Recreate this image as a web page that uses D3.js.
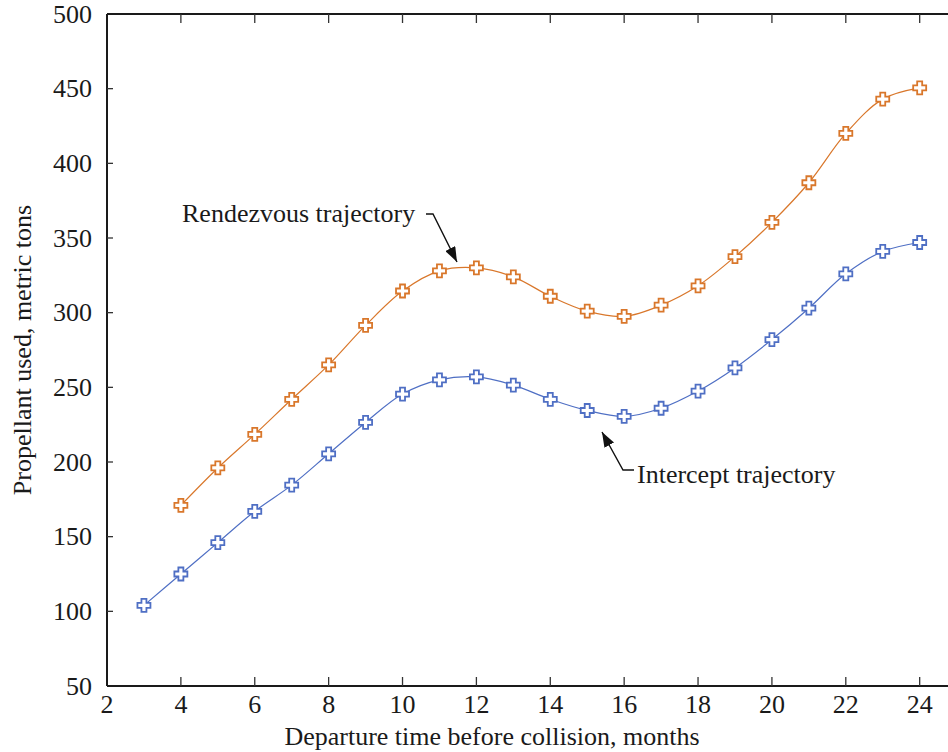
<!doctype html>
<html>
<head>
<meta charset="utf-8">
<script src="https://cdn.jsdelivr.net/npm/d3@7"></script>
<style>
  body { margin: 0; background: #fff; }
  text { font-family: "Liberation Serif", "Times New Roman", serif; fill: #1a1a1a; }
</style>
</head>
<body>
<div id="chart"></div>
<script>
// months before collision
var interceptMonths = [3,4,5,6,7,8,9,10,11,12,13,14,15,16,17,18,19,20,21,22,23,24];
var interceptTons = [104,125,146,167,184.5,205.5,226.5,245.5,255,257,251.5,242,234.5,230.5,236,247.5,263,282,303,326,341,347];

var rendezvousMonths = [4,5,6,7,8,9,10,11,12,13,14,15,16,17,18,19,20,21,22,23,24];
var rendezvousTons = [171,196,218.5,242,265,291.5,314.5,328,330,324,311,301,297.5,305,318,337.5,360.5,387,420,443,450.5];

var xTicks = [2,4,6,8,10,12,14,16,18,20,22,24];
var yTicks = [50,100,150,200,250,300,350,400,450,500];

var width = 948, height = 752;
var margin = {left: 107, top: 14, right: 0, bottom: 66};
var fs = 26;

var svg = d3.select("#chart").append("svg")
  .attr("width", width).attr("height", height);

var x = d3.scaleLinear().domain([2, 2 + (width - margin.left) / 36.94])
  .range([margin.left, width]);
var y = d3.scaleLinear().domain([50, 500])
  .range([height - margin.bottom, margin.top]);

// frame lines
var frame = svg.append("g").attr("stroke", "#1a1a1a").attr("stroke-width", 2);
frame.append("line").attr("x1", margin.left).attr("x2", width)
  .attr("y1", y(500)).attr("y2", y(500));
frame.append("line").attr("x1", margin.left).attr("x2", width)
  .attr("y1", y(50)).attr("y2", y(50));
frame.append("line").attr("x1", margin.left).attr("x2", margin.left)
  .attr("y1", y(500)).attr("y2", y(50));

// ticks (inside) + labels
var tk = svg.append("g").attr("stroke", "#333").attr("stroke-width", 1.3);
xTicks.forEach(function(t) {
  if (t === 2) return;
  tk.append("line").attr("x1", x(t)).attr("x2", x(t)).attr("y1", y(50)).attr("y2", y(50) - 9);
  tk.append("line").attr("x1", x(t)).attr("x2", x(t)).attr("y1", y(500)).attr("y2", y(500) + 9);
});
yTicks.forEach(function(t) {
  if (t === 50 || t === 500) return;
  tk.append("line").attr("x1", margin.left).attr("x2", margin.left + 6).attr("y1", y(t)).attr("y2", y(t));
});

svg.append("g").selectAll("text").data(xTicks).enter().append("text")
  .attr("x", function(d) { return x(d); })
  .attr("y", y(50) + 27)
  .attr("text-anchor", "middle")
  .attr("font-size", fs)
  .text(function(d) { return d; });

svg.append("g").selectAll("text").data(yTicks).enter().append("text")
  .attr("x", 92)
  .attr("y", function(d) { return y(d) + 8.5; })
  .attr("text-anchor", "end")
  .attr("font-size", fs)
  .text(function(d) { return d; });

svg.append("text")
  .attr("x", 492).attr("y", 745)
  .attr("text-anchor", "middle").attr("font-size", fs)
  .text("Departure time before collision, months");

svg.append("text")
  .attr("transform", "translate(31," + ((y(50) + y(500)) / 2) + ") rotate(-90)")
  .attr("text-anchor", "middle").attr("font-size", fs)
  .text("Propellant used, metric tons");

// series
var line = d3.line()
  .x(function(d) { return x(d[0]); })
  .y(function(d) { return y(d[1]); })
  .curve(d3.curveCatmullRom.alpha(0.5));

var crossPath = "M-2.5,-6.5H2.5V-2.5H6.5V2.5H2.5V6.5H-2.5V2.5H-6.5V-2.5H-2.5Z";

function drawSeries(months, tons, color) {
  var pts = months.map(function(m, i) { return [m, tons[i]]; });
  svg.append("path").datum(pts)
    .attr("d", line)
    .attr("fill", "none")
    .attr("stroke", color)
    .attr("stroke-width", 1.2);
  svg.append("g").selectAll("path").data(pts).enter().append("path")
    .attr("transform", function(d) { return "translate(" + x(d[0]) + "," + y(d[1]) + ")"; })
    .attr("d", crossPath)
    .attr("fill", "#fff")
    .attr("stroke", color)
    .attr("stroke-width", 1.8);
}

drawSeries(interceptMonths, interceptTons, "#4f6fc4");
drawSeries(rendezvousMonths, rendezvousTons, "#d9772b");

// annotations
svg.append("defs").append("marker")
  .attr("id", "arr").attr("viewBox", "0 0 10 10")
  .attr("refX", 10).attr("refY", 5)
  .attr("markerWidth", 15).attr("markerHeight", 11)
  .attr("markerUnits", "userSpaceOnUse")
  .attr("orient", "auto")
  .attr("preserveAspectRatio", "none")
  .append("path").attr("d", "M0,0L10,5L0,10Z").attr("fill", "#111");

svg.append("text").attr("x", 182).attr("y", 222).attr("font-size", fs)
  .text("Rendezvous trajectory");
svg.append("path")
  .attr("d", "M426,214H433L457,262")
  .attr("fill", "none").attr("stroke", "#111").attr("stroke-width", 1.4)
  .attr("marker-end", "url(#arr)");

svg.append("text").attr("x", 637).attr("y", 483).attr("font-size", fs)
  .text("Intercept trajectory");
svg.append("path")
  .attr("d", "M634,470H623L602,432")
  .attr("fill", "none").attr("stroke", "#111").attr("stroke-width", 1.4)
  .attr("marker-end", "url(#arr)");
</script>
</body>
</html>
